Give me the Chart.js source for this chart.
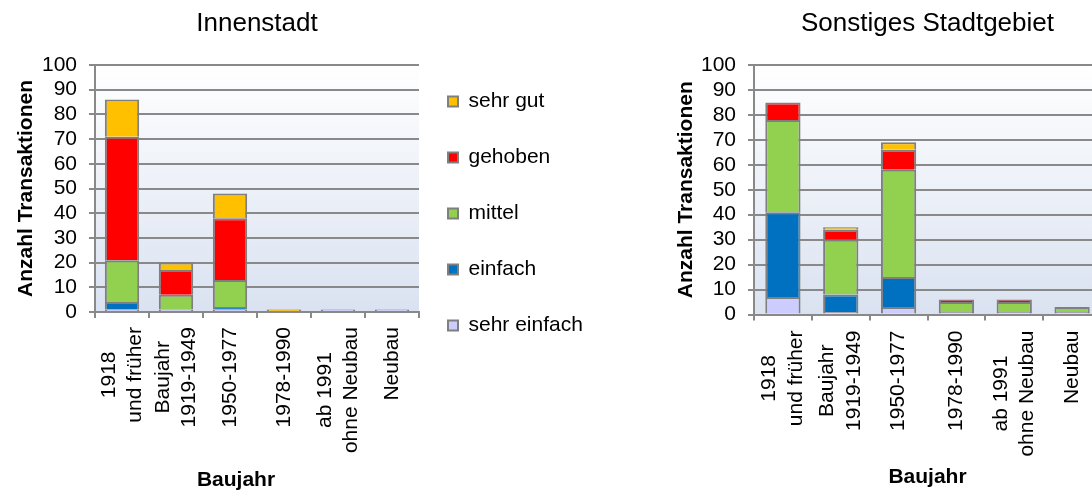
<!DOCTYPE html>
<html><head><meta charset="utf-8">
<script src="https://cdn.jsdelivr.net/npm/chart.js@4/dist/chart.umd.min.js"></script>
<style>
html,body{margin:0;padding:0;background:#fff;overflow:hidden;width:1092px;height:490px;position:relative}
canvas{position:absolute;top:0}
</style></head><body>
<canvas id="c1" width="600" height="490" style="left:0px"></canvas>
<canvas id="c2" width="441" height="490" style="left:660px"></canvas>
<script>
// ---- data ----
const categories = [['1918','und früher'], ['Baujahr','1919-1949'], ['1950-1977'], ['1978-1990'], ['ab 1991','ohne Neubau'], ['Neubau']];
const seriesNames = ['sehr einfach','einfach','mittel','gehoben','sehr gut'];
const yMin = 0, yMax = 100, yStep = 10;
const yTitle = 'Anzahl Transaktionen';
const xTitle = 'Baujahr';
const titleLeft = 'Innenstadt';
const titleRight = 'Sonstiges Stadtgebiet';

const innenSehrEinfach = [1, 1, 1, 0, 1, 1];
const innenEinfach     = [3, 0, 1, 0, 0, 0];
const innenMittel      = [17, 6, 11, 0, 0, 0];
const innenGehoben     = [50, 10, 25, 0, 0, 0];
const innenSehrGut     = [15, 3, 10, 1, 0, 0];

const sonstSehrEinfach = [7, 1, 3, 1, 1, 1];
const sonstEinfach     = [34, 7, 12, 0, 0, 0];
const sonstMittel      = [37, 22, 43, 4, 4, 2];
const sonstGehoben     = [7, 4, 8, 1, 1, 0];
const sonstSehrGut     = [0, 1, 3, 0, 0, 0];

// ---- styles ----
const seriesColors = ['#ccccff', '#0070c0', '#92d050', '#ff0000', '#ffc000'];
const GRID = '#898989';
const FONT = '"Liberation Sans", Arial, Helvetica, sans-serif';
Chart.defaults.font.family = FONT;
Chart.defaults.color = '#000';

const plotBg = {
  id: 'plotBg',
  beforeDraw(chart) {
    const {ctx, chartArea: a} = chart;
    const g = ctx.createLinearGradient(0, a.top, 0, a.bottom);
    g.addColorStop(0, '#ffffff');
    g.addColorStop(1, '#dae2f1');
    ctx.save();
    ctx.fillStyle = g;
    ctx.fillRect(a.left, a.top, a.right - a.left, a.bottom - a.top);
    ctx.restore();
  }
};

const catLabels = {
  id: 'catLabels',
  afterDraw(chart, args, opts) {
    const xs = chart.scales.x, ctx = chart.ctx;
    ctx.save();
    ctx.fillStyle = '#000';
    ctx.textAlign = 'center';
    ctx.textBaseline = 'middle';
    ctx.font = '21px ' + FONT;
    chart.data.labels.forEach((lab, i) => {
      const lines = Array.isArray(lab) ? lab : [lab];
      const x = xs.getPixelForValue(i);
      const maxW = Math.max(...lines.map(l => ctx.measureText(l).width));
      const cy = xs.top + opts.gap + maxW / 2;
      lines.forEach((line, j) => {
        const cx = x + (j - (lines.length - 1) / 2) * opts.lineSpacing;
        ctx.save();
        ctx.translate(cx, cy);
        ctx.rotate(-Math.PI / 2);
        ctx.fillText(line, 0, 0);
        ctx.restore();
      });
    });
    ctx.font = 'bold 21px ' + FONT;
    ctx.fillText(opts.title, (xs.left + xs.right) / 2 + opts.titleDx, opts.titleY);
    ctx.restore();
  }
};

function makeDatasets(arrs) {
  return seriesNames.map((n, i) => ({
    label: n,
    data: arrs[i],
    backgroundColor: seriesColors[i],
    borderColor: '#7f7f7f',
    borderWidth: 2
  }));
}

function makeConfig(o) {
  return {
    type: 'bar',
    data: {labels: categories, datasets: makeDatasets(o.series)},
    options: {
      responsive: false, animation: false, devicePixelRatio: 1,
      layout: {padding: o.padding},
      datasets: {bar: {barPercentage: o.barPct, categoryPercentage: 1}},
      scales: {
        x: {
          stacked: true,
          afterFit(s) { s.height = o.xHeight; },
          ticks: {display: false, autoSkip: false},
          grid: {offset: true, drawOnChartArea: false, drawTicks: true, tickLength: 6, color: GRID, lineWidth: 2},
          border: {display: true, color: GRID, width: 2}
        },
        y: {
          stacked: true, min: yMin, max: yMax,
          afterFit(s) { s.width = o.yWidth; },
          ticks: {stepSize: yStep, autoSkip: false, padding: 12, font: {size: 21}, color: '#000'},
          grid: {color: GRID, lineWidth: 2, tickLength: 6},
          border: {display: true, color: GRID, width: 2},
          title: {display: true, text: yTitle, font: {size: 21, weight: 'bold'}, color: '#000', padding: {top: 14, bottom: 0}}
        }
      },
      plugins: {
        title: {display: true, text: o.title, fullSize: false, font: {size: 26, weight: 'normal'}, color: '#000', padding: {top: 8, bottom: 25.8}},
        legend: o.legend ? {
          display: true, position: 'right', align: 'center', fullSize: true, reverse: true, maxWidth: 170,
          labels: {
            boxWidth: 10, boxHeight: 10, padding: 29, color: '#000',
            font: {size: 21, lineHeight: '27px'},
            generateLabels(chart) {
              const items = Chart.defaults.plugins.legend.labels.generateLabels(chart);
              items.forEach(it => { it.text = [it.text]; });
              return items;
            }
          }
        } : {display: false},
        tooltip: {enabled: false},
        catLabels: {gap: o.gap, lineSpacing: 26.5, title: xTitle, titleDx: o.titleDx, titleY: o.titleY}
      }
    },
    plugins: [plotBg, catLabels]
  };
}

new Chart(document.getElementById('c1'), makeConfig({
  series: [innenSehrEinfach, innenEinfach, innenMittel, innenGehoben, innenSehrGut],
  title: titleLeft, legend: true,
  padding: {top: 0, left: 0, right: 11, bottom: 57},
  xHeight: 121, yWidth: 95, barPct: 0.635, gap: 15, titleDx: -21, titleY: 480
}));

new Chart(document.getElementById('c2'), makeConfig({
  series: [sonstSehrEinfach, sonstEinfach, sonstMittel, sonstGehoben, sonstSehrGut],
  title: titleRight, legend: false,
  padding: {top: 0, left: 0, right: 0, bottom: 0},
  xHeight: 175.5, yWidth: 94, barPct: 0.61, gap: 16, titleDx: 0, titleY: 477.5
}));
</script>
</body></html>
